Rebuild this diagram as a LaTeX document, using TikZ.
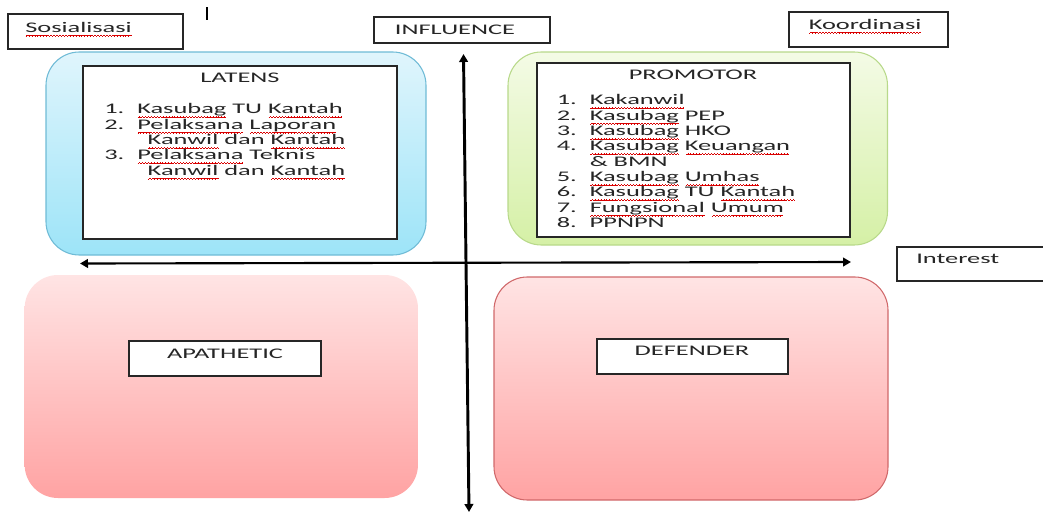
\documentclass[tikz,border=0pt]{standalone}
\usepackage{fontspec}
\setmainfont{Carlito}[FakeStretch=1.8]
\usetikzlibrary{arrows.meta}

\definecolor{bluetop}{HTML}{E0F5FC}
\definecolor{bluebot}{HTML}{9DE4F8}
\definecolor{bluebd}{HTML}{6FBBD6}
\definecolor{greentop}{HTML}{F4FBE6}
\definecolor{greenbot}{HTML}{D5F0A6}
\definecolor{greenbd}{HTML}{B8D98A}
\definecolor{pinktop}{HTML}{FFE4E4}
\definecolor{pinkbot}{HTML}{FFA3A3}
\definecolor{pinkbd}{HTML}{D0686A}

% red spell-check squiggle under a word
\newsavebox\wavebox
\newlength\typowd
\newcommand{\typo}[1]{\settowidth{\typowd}{#1}%
  \rlap{\raisebox{-2.3pt}{\hbox to\typowd{\cleaders\copy\wavebox\hfil}}}#1}
\newcommand{\itm}[2]{\makebox[24.75pt][l]{#1}#2}
\newcommand{\cont}{\hspace*{32.6pt}}

\begin{document}
\sbox\wavebox{\textcolor{red!85!black}{\rule[-0.6pt]{0.55pt}{0.4pt}\rule[-0.3pt]{0.55pt}{0.4pt}%
  \rule[0pt]{0.55pt}{0.4pt}\rule[-0.3pt]{0.55pt}{0.4pt}}}%
\begin{tikzpicture}[x=0.75pt, y=-0.75pt, >={Triangle[length=6pt,width=6.5pt]},
  every node/.style={font=\fontsize{11}{11.5}\selectfont},
  quad/.style={rounded corners=25pt, line width=0.8pt},
  wbox/.style={draw=black!85, fill=white, line width=0.9pt},
  txt/.style={inner sep=0pt, text=black!85},
  lst/.style={txt, align=left}]
  \path[use as bounding box, clip] (0,0) rectangle (1043,514);

  % quadrants
  \node[quad, draw=bluebd, top color=bluetop, bottom color=bluebot,
    minimum width=285pt, minimum height=152.25pt] (latq) at (236,153.5) {};
  \node[quad, draw=greenbd, top color=greentop, bottom color=greenbot,
    minimum width=284.6pt, minimum height=144.75pt] (proq) at (697.75,148.5) {};
  \node[quad, draw=none, top color=pinktop, bottom color=pinkbot,
    minimum width=295pt, minimum height=167.25pt] (apaq) at (221.3,386.5) {};
  \node[quad, draw=pinkbd, top color=pinktop, bottom color=pinkbot,
    minimum width=295.5pt, minimum height=167.25pt] (defq) at (691,388.5) {};

  % white boxes
  \node[wbox, minimum width=235.5pt, minimum height=129.75pt] (latb) at (240,152.5) {};
  \node[wbox, minimum width=234.75pt, minimum height=130.5pt] (prob) at (693.5,150) {};
  \node[wbox, minimum width=144pt, minimum height=26.25pt] (apab) at (225,358.5) {};
  \node[wbox, minimum width=143.25pt, minimum height=26.25pt] (defb) at (692.5,356.5) {};
  \node[wbox, minimum width=131.25pt, minimum height=26.25pt] (sosb) at (95.5,31.5) {};
  \node[wbox, minimum width=132pt, minimum height=19.5pt] (infb) at (462,30) {};
  \node[wbox, minimum width=119.25pt, minimum height=26.25pt] (koob) at (868.5,29.5) {};
  \node[wbox, minimum width=122.25pt, minimum height=25.5pt] (intb) at (978.5,264) {};

  % texts
  \node[txt, anchor=base west] (sos) at (25,32.5) {\typo{Sosialisasi}};
  \node[txt] (inf) at (455,30) {INFLUENCE};
  \node[txt, anchor=base west] (koo) at (808.5,29.5) {\typo{Koordinasi}};
  \node[txt, anchor=base west] (int) at (916,263.5) {Interest};
  \node[txt] (apa) at (225,354) {APATHETIC};
  \node[txt] (def) at (692,351) {DEFENDER};
  \node[txt] (lat) at (240,78) {LATENS};
  \node[txt] (pro) at (693,75) {PROMOTOR};

  \node[lst, anchor=north west] (latl) at (104,103.5) {%
    \itm{1.}{\typo{Kasubag} TU \typo{Kantah}}\\
    \itm{2.}{\typo{Pelaksana} \typo{Laporan}}\\
    \cont\typo{Kanwil} dan \typo{Kantah}\\
    \itm{3.}{\typo{Pelaksana} Teknis}\\
    \cont\typo{Kanwil} dan \typo{Kantah}};
  \node[lst, anchor=north west] (prol) at (556.5,94.5) {%
    \itm{1.}{\typo{Kakanwil}}\\
    \itm{2.}{\typo{Kasubag} PEP}\\
    \itm{3.}{\typo{Kasubag} HKO}\\
    \itm{4.}{\typo{Kasubag} \typo{Keuangan}}\\
    \itm{}{\& BMN}\\
    \itm{5.}{\typo{Kasubag} \typo{Umhas}}\\
    \itm{6.}{\typo{Kasubag} TU \typo{Kantah}}\\
    \itm{7.}{\typo{Fungsional} \typo{Umum}}\\
    \itm{8.}{PPNPN}};

  % axes
  \coordinate (yt) at (463.5,54);
  \coordinate (yb) at (469,512);
  \coordinate (xl) at (80,263.5);
  \coordinate (xr) at (851,262);
  \draw[<->, line width=2.2pt] (yb)--(yt);
  \draw[<->, line width=1.6pt] (xl)--(xr);
  \draw[line width=1pt] (207,7)--(207,20);
\end{tikzpicture}
\end{document}
